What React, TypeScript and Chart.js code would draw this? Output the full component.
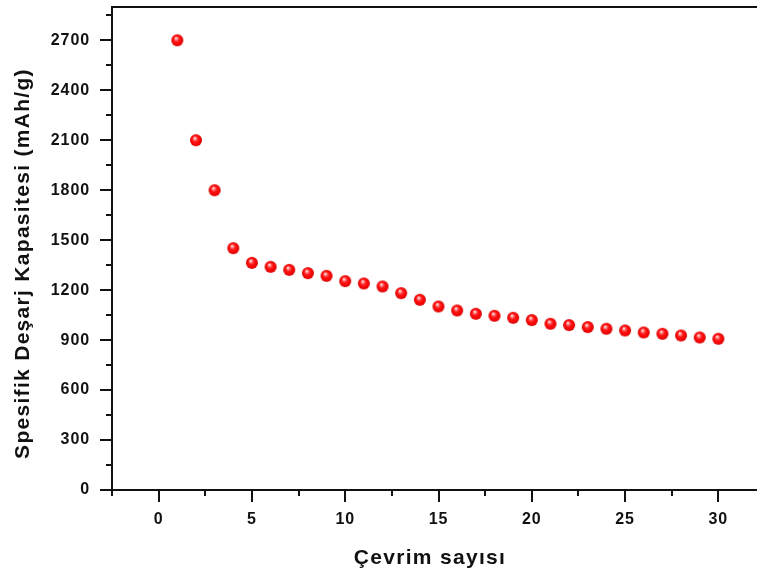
import React, { useEffect, useRef } from 'react';
import { Chart, registerables } from 'chart.js';

Chart.register(...registerables);

// ---- data ----
const cycles = [1, 2, 3, 4, 5, 6, 7, 8, 9, 10, 11, 12, 13, 14, 15, 16, 17, 18, 19, 20, 21, 22, 23, 24, 25, 26, 27, 28, 29, 30];
const capacity = [2700, 2100, 1800, 1452, 1364, 1340, 1322, 1302, 1286, 1254, 1240, 1222, 1182, 1142, 1102, 1078, 1058, 1046, 1034, 1020, 998, 990, 978, 968, 958, 946, 938, 928, 916, 908];
const xTicks = [0, 5, 10, 15, 20, 25, 30];
const xMinorTicks = [-2.5, 2.5, 7.5, 12.5, 17.5, 22.5, 27.5, 32.5];
const yTicks = [0, 300, 600, 900, 1200, 1500, 1800, 2100, 2400, 2700];
const yMinorTicks = [150, 450, 750, 1050, 1350, 1650, 1950, 2250, 2550, 2850];
const xTitle = 'Çevrim sayısı';
const yTitle = 'Spesifik Deşarj Kapasitesi (mAh/g)';

const FONT = '"Liberation Sans", Arial, Helvetica, sans-serif';
const INK = '#111111';

function makeSphere(r: number): HTMLCanvasElement {
  const size = r * 2 + 2;
  const c = document.createElement('canvas');
  c.width = size;
  c.height = size;
  const g = c.getContext('2d')!;
  const cx = size / 2;
  const cy = size / 2;
  const grad = g.createRadialGradient(cx - 1.3, cy - 2.2, 0.3, cx, cy, r);
  grad.addColorStop(0, '#ffecec');
  grad.addColorStop(0.22, '#ff7878');
  grad.addColorStop(0.45, '#ff1818');
  grad.addColorStop(0.85, '#f20000');
  grad.addColorStop(1, '#c40000');
  g.fillStyle = grad;
  g.beginPath();
  g.arc(cx, cy, r, 0, Math.PI * 2);
  g.fill();
  return c;
}

const originAxes = {
  id: 'originAxes',
  beforeDraw(chart: any) {
    chart.ctx.letterSpacing = '0.9px';
  },
  afterDraw(chart: any) {
    const { ctx, chartArea, scales } = chart;
    const xs = scales.x;
    const ys = scales.y;
    ctx.save();
    ctx.letterSpacing = '0px';
    ctx.strokeStyle = INK;
    ctx.lineWidth = 2;
    ctx.lineCap = 'butt';
    // top frame line
    ctx.beginPath();
    ctx.moveTo(chartArea.left - 1, chartArea.top);
    ctx.lineTo(chartArea.right, chartArea.top);
    ctx.stroke();
    const L = chartArea.left;
    const B = chartArea.bottom;
    ctx.beginPath();
    yTicks.forEach((v) => {
      const p = Math.round(ys.getPixelForValue(v));
      ctx.moveTo(L - 12, p);
      ctx.lineTo(L, p);
    });
    yMinorTicks.forEach((v) => {
      const p = Math.round(ys.getPixelForValue(v));
      ctx.moveTo(L - 6, p);
      ctx.lineTo(L, p);
    });
    xTicks.forEach((v) => {
      const p = Math.round(xs.getPixelForValue(v));
      ctx.moveTo(p, B);
      ctx.lineTo(p, B + 12);
    });
    xMinorTicks.forEach((v) => {
      const p = Math.round(xs.getPixelForValue(v));
      ctx.moveTo(p, B);
      ctx.lineTo(p, B + 6);
    });
    ctx.stroke();

    // axis titles
    ctx.fillStyle = INK;
    ctx.font = `bold 21px ${FONT}`;
    ctx.letterSpacing = '1.3px';
    ctx.textAlign = 'center';
    ctx.textBaseline = 'alphabetic';
    ctx.fillText(xTitle, 430, 563.5);
    ctx.translate(29, 263.5);
    ctx.rotate(-Math.PI / 2);
    ctx.fillText(yTitle, 0, 0);
    ctx.restore();
    ctx.letterSpacing = '0px';
  },
};

export default function App() {
  const ref = useRef<HTMLCanvasElement | null>(null);

  useEffect(() => {
    if (!ref.current) return;
    const sphere = makeSphere(6);
    const chart = new Chart(ref.current, {
      type: 'scatter',
      data: {
        datasets: [
          {
            data: cycles.map((c, i) => ({ x: c, y: capacity[i] })),
            pointStyle: sphere as any,
            pointRadius: 6,
            backgroundColor: '#ff0000',
            borderColor: '#ff0000',
          },
        ],
      },
      plugins: [originAxes],
      options: {
        responsive: false,
        animation: false,
        devicePixelRatio: 1,
        layout: { padding: { left: 0, top: 6, right: 15, bottom: 0 } },
        plugins: {
          legend: { display: false },
          tooltip: { enabled: false },
        },
        scales: {
          x: {
            type: 'linear',
            min: -2.5,
            max: 32.5,
            grid: { display: false, drawTicks: false },
            border: { display: true, color: INK, width: 2 },
            ticks: {
              color: INK,
              padding: 20,
              font: { family: FONT, size: 16, weight: 'bold' },
              callback: (v: any) => String(v),
            },
            afterBuildTicks: (s: any) => {
              s.ticks = xTicks.map((v) => ({ value: v }));
            },
            afterFit: (s: any) => {
              s.height = 88;
              s.paddingLeft = 0;
              s.paddingRight = 0;
              s.paddingTop = 0;
              s.paddingBottom = 0;
            },
          },
          y: {
            type: 'linear',
            min: 0,
            max: 2900,
            grid: { display: false, drawTicks: false },
            border: { display: true, color: INK, width: 2 },
            ticks: {
              color: INK,
              padding: 22,
              font: { family: FONT, size: 16, weight: 'bold' },
              callback: (v: any) => String(v),
            },
            afterBuildTicks: (s: any) => {
              s.ticks = yTicks.map((v) => ({ value: v }));
            },
            afterFit: (s: any) => {
              s.width = 112;
              s.paddingLeft = 0;
              s.paddingRight = 0;
              s.paddingTop = 0;
              s.paddingBottom = 0;
            },
          },
        },
      } as any,
    });
    return () => chart.destroy();
  }, []);

  return (
    <div
      style={{
        position: 'absolute',
        left: 0,
        top: 0,
        width: 757,
        height: 578,
        overflow: 'hidden',
        background: '#ffffff',
      }}
    >
      <canvas ref={ref} width={780} height={578} style={{ display: 'block' }} />
    </div>
  );
}
